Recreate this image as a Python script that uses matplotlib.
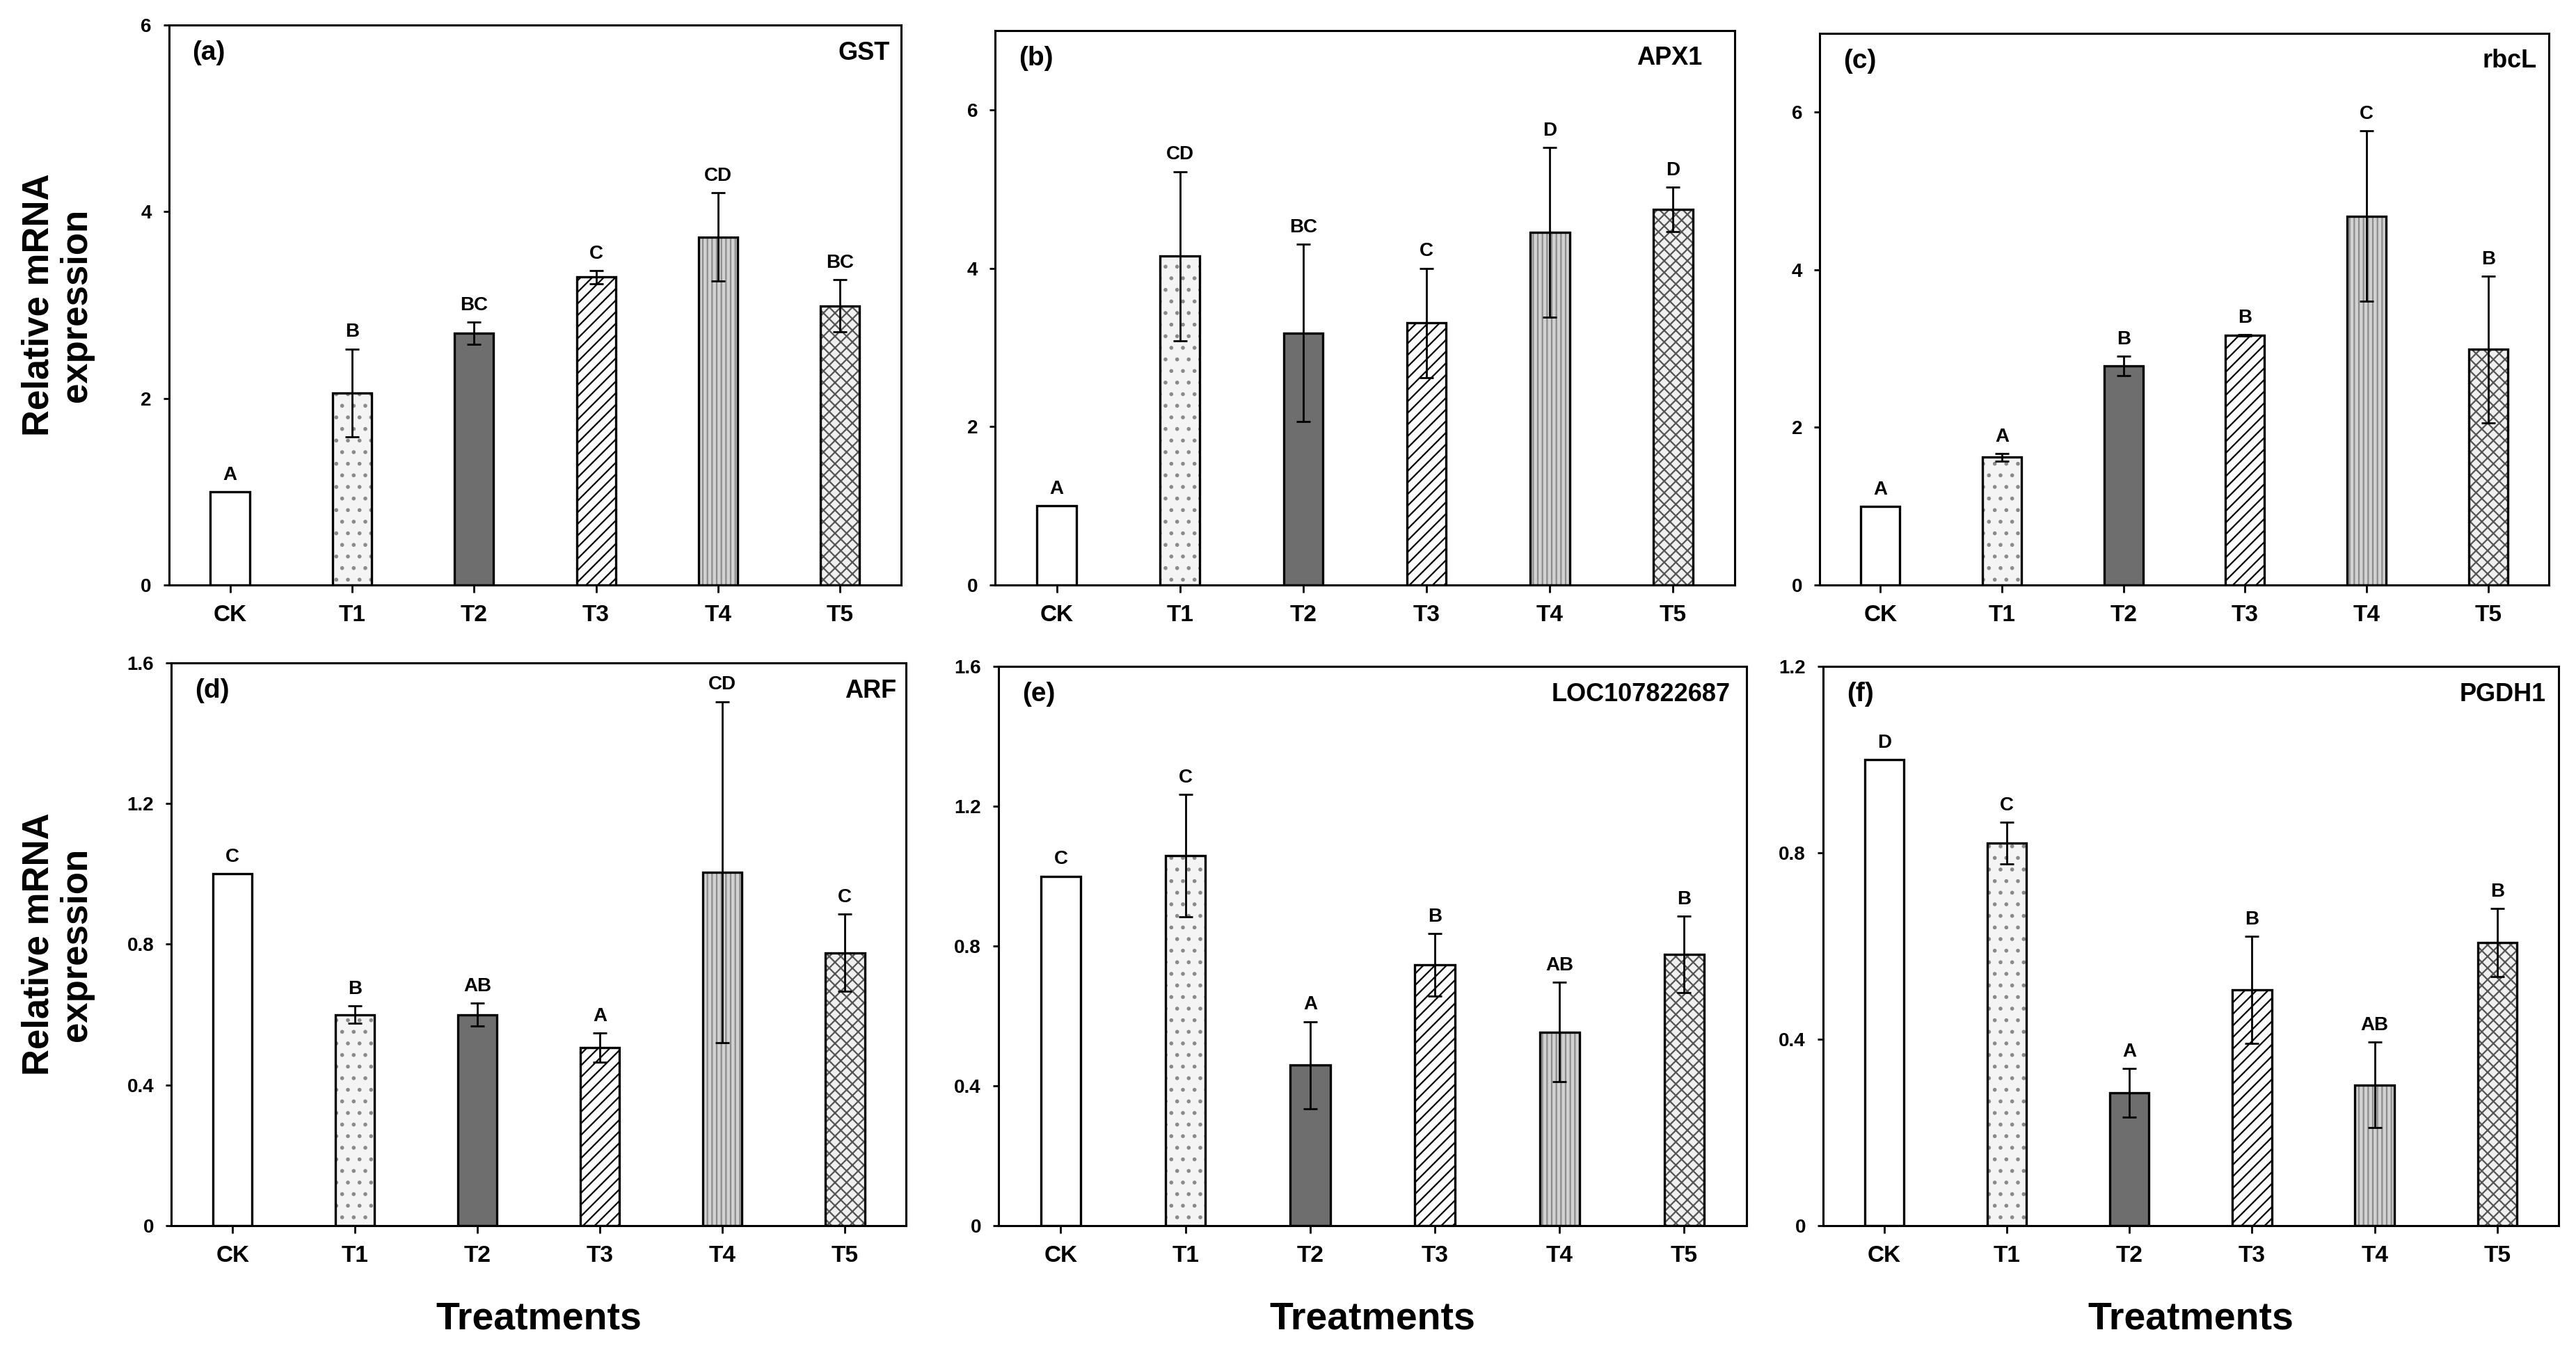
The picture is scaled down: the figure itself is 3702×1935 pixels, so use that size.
import matplotlib
matplotlib.use('Agg')
import matplotlib.pyplot as plt
import numpy as np

narrow = ['Liberation Sans', 'DejaVu Sans']
wide = ['Liberation Sans', 'DejaVu Sans']

treatments = ['CK', 'T1', 'T2', 'T3', 'T4', 'T5']

gst_mean = [1.0, 2.06, 2.70, 3.30, 3.73, 2.99]
gst_err = [0.0, 0.47, 0.12, 0.07, 0.47, 0.28]
gst_letters = ['A', 'B', 'BC', 'C', 'CD', 'BC']

apx1_mean = [1.0, 4.15, 3.18, 3.31, 4.45, 4.74]
apx1_err = [0.0, 1.07, 1.12, 0.69, 1.07, 0.28]
apx1_letters = ['A', 'CD', 'BC', 'C', 'D', 'D']

rbcl_mean = [1.0, 1.62, 2.78, 3.17, 4.68, 2.99]
rbcl_err = [0.0, 0.05, 0.12, 0.01, 1.08, 0.93]
rbcl_letters = ['A', 'A', 'B', 'B', 'C', 'B']

arf_mean = [1.0, 0.60, 0.60, 0.506, 1.005, 0.776]
arf_err = [0.0, 0.025, 0.033, 0.042, 0.485, 0.11]
arf_letters = ['C', 'B', 'AB', 'A', 'CD', 'C']

loc_mean = [1.0, 1.059, 0.459, 0.746, 0.554, 0.776]
loc_err = [0.0, 0.175, 0.125, 0.09, 0.143, 0.11]
loc_letters = ['C', 'C', 'A', 'B', 'AB', 'B']

pgdh1_mean = [1.0, 0.821, 0.285, 0.506, 0.302, 0.608]
pgdh1_err = [0.0, 0.045, 0.052, 0.115, 0.092, 0.073]
pgdh1_letters = ['D', 'C', 'A', 'B', 'AB', 'B']

# (facecolor, hatch, hatch colour) for each treatment
bar_styles = [
    ('white', None, 'black'),
    ('#f4f4f4', '..', '#8a8a8a'),
    ('#6e6e6e', None, 'black'),
    ('white', '////', 'black'),
    ('#d2d2d2', '|||||', '#8c8c8c'),
    ('#f0f0f0', 'xxxx', '#555555'),
]

plt.rcParams['hatch.linewidth'] = 0.8


def draw_panel(ax, means, errs, letters, ymax, yticks, ytick_labels, tag, gene, gene_x):
    x = np.arange(len(treatments))
    for i, (face, hatch, hcolor) in enumerate(bar_styles):
        ax.bar(x[i], means[i], width=0.32, color=face, hatch=hatch,
               edgecolor=hcolor, linewidth=0, zorder=2)
        ax.bar(x[i], means[i], width=0.32, fill=False,
               edgecolor='black', linewidth=1.2, zorder=3)

    has_err = [i for i in range(len(errs)) if errs[i] > 0]
    ax.errorbar(x[has_err], np.array(means)[has_err], yerr=np.array(errs)[has_err],
                fmt='none', ecolor='black', elinewidth=1.0, capsize=3.5,
                capthick=1.0, zorder=4)

    for i, letter in enumerate(letters):
        ax.annotate(letter, (x[i], means[i] + errs[i]), xytext=(0, 4),
                    textcoords='offset points', ha='center', va='bottom',
                    fontsize=10, fontweight='bold', family=narrow)

    ax.set_xlim(-0.5, 5.5)
    ax.set_ylim(0, ymax)
    ax.set_xticks(x)
    ax.set_xticklabels(treatments, fontsize=12, fontweight='bold', family=narrow)
    ax.set_yticks(yticks)
    ax.set_yticklabels(ytick_labels, fontsize=10, fontweight='bold', family=narrow)
    ax.tick_params(axis='x', direction='out', length=4, width=1, pad=6)
    ax.tick_params(axis='y', direction='out', length=3, width=1, pad=6)
    for spine in ax.spines.values():
        spine.set_linewidth(1.1)

    ax.text(0.032, 0.95, tag, transform=ax.transAxes, ha='left', va='center',
            fontsize=14, fontweight='bold', family=narrow)
    ax.text(gene_x, 0.95, gene, transform=ax.transAxes, ha='right', va='center',
            fontsize=13, fontweight='bold', family=narrow)


fig = plt.figure(figsize=(18.51, 9.675), dpi=200)

ax_a = fig.add_axes([0.0656, 0.5654, 0.2842, 0.4160])
ax_b = fig.add_axes([0.3863, 0.5654, 0.2871, 0.4119])
ax_c = fig.add_axes([0.7064, 0.5654, 0.2831, 0.4098])
ax_d = fig.add_axes([0.0665, 0.0894, 0.2853, 0.4181])
ax_e = fig.add_axes([0.3876, 0.0894, 0.2904, 0.4155])
ax_f = fig.add_axes([0.7077, 0.0894, 0.2855, 0.4155])

draw_panel(ax_a, gst_mean, gst_err, gst_letters, 6, [0, 2, 4, 6],
           ['0', '2', '4', '6'], '(a)', 'GST', 0.985)
draw_panel(ax_b, apx1_mean, apx1_err, apx1_letters, 7, [0, 2, 4, 6],
           ['0', '2', '4', '6'], '(b)', 'APX1', 0.956)
draw_panel(ax_c, rbcl_mean, rbcl_err, rbcl_letters, 7, [0, 2, 4, 6],
           ['0', '2', '4', '6'], '(c)', 'rbcL', 0.983)
draw_panel(ax_d, arf_mean, arf_err, arf_letters, 1.6, [0, 0.4, 0.8, 1.2, 1.6],
           ['0', '0.4', '0.8', '1.2', '1.6'], '(d)', 'ARF', 0.987)
draw_panel(ax_e, loc_mean, loc_err, loc_letters, 1.6, [0, 0.4, 0.8, 1.2, 1.6],
           ['0', '0.4', '0.8', '1.2', '1.6'], '(e)', 'LOC107822687', 0.978)
draw_panel(ax_f, pgdh1_mean, pgdh1_err, pgdh1_letters, 1.2, [0, 0.4, 0.8, 1.2],
           ['0', '0.4', '0.8', '1.2'], '(f)', 'PGDH1', 0.983)

for ax in (ax_d, ax_e, ax_f):
    ax.set_xlabel('Treatments', fontsize=20, fontweight='bold', family=narrow, labelpad=18)

for ax in (ax_a, ax_d):
    pos = ax.get_position()
    fig.text(0.0224, pos.y0 + pos.height / 2, 'Relative mRNA\nexpression', rotation=90,
             ha='center', va='center', fontsize=19, fontweight='bold', family=wide,
             linespacing=1.1)

fig.savefig('out.png', dpi=200)
